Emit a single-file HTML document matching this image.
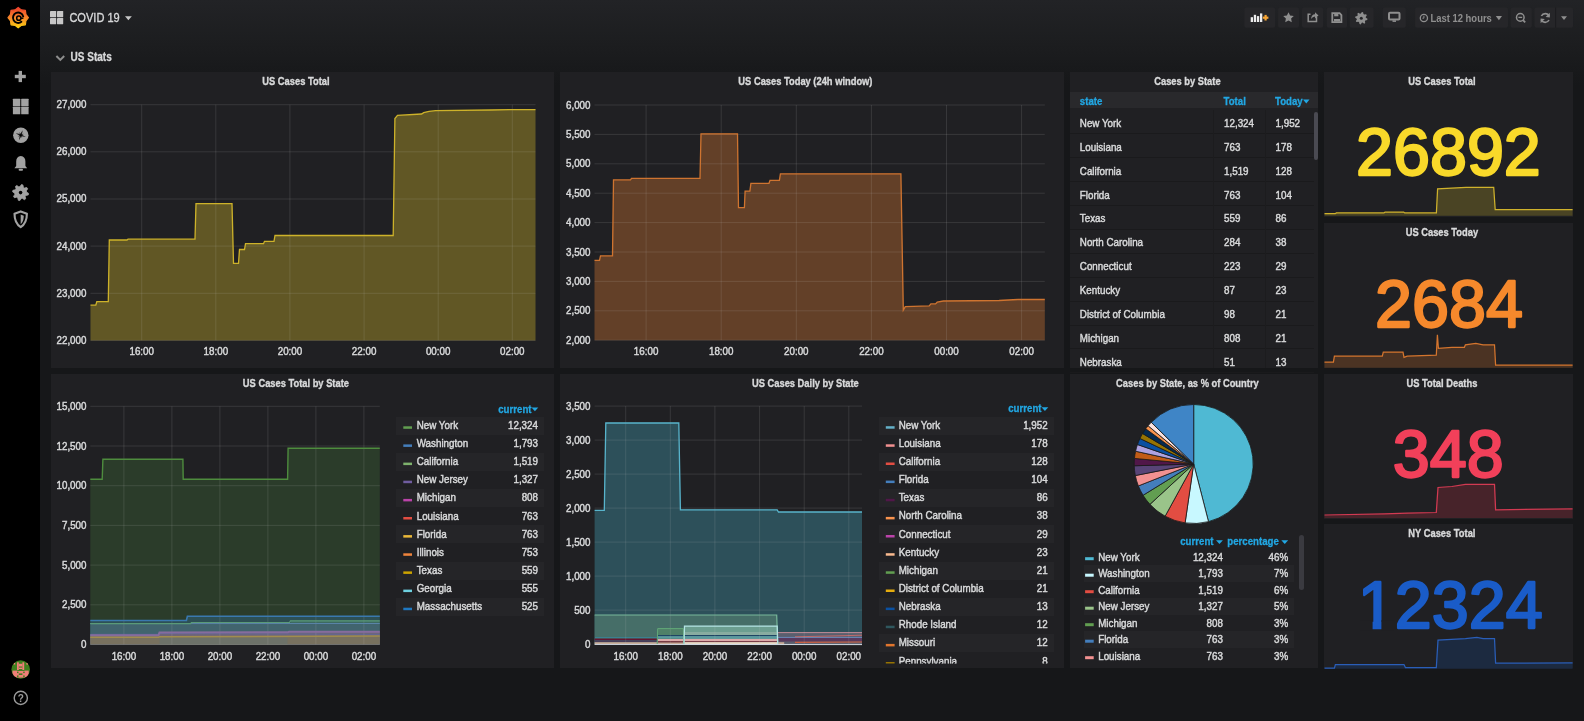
<!DOCTYPE html>
<html><head><meta charset="utf-8"><style>
html,body{margin:0;padding:0}
body{width:1584px;height:721px;overflow:hidden;position:relative;background:#161719;font-family:"Liberation Sans", sans-serif;color:#d8d9da}
.bg{position:absolute;left:40px;top:0;width:1544px;height:721px;background:linear-gradient(180deg,#222326 0px,#1c1d1f 45px,#161719 85px)}
.side{position:absolute;left:0;top:0;width:40px;height:721px;background:#000}
.pn{position:absolute;background:#202023}
svg.ov{position:absolute;left:0;top:0;will-change:transform}
svg text{font-family:"Liberation Sans", sans-serif}
</style></head><body>
<div class="bg"></div>
<div class="side"></div>
<svg class="ov" width="40" height="721" viewBox="0 0 40 721"><defs><linearGradient id="lg" x1="0" y1="0" x2="0" y2="1"><stop offset="0" stop-color="#ee3f2c"/><stop offset="0.5" stop-color="#f7842a"/><stop offset="1" stop-color="#fcd20e"/></linearGradient></defs><polygon points="18.2,7.4 21.4,9.9 25.4,10.4 25.9,14.4 28.4,17.6 25.9,20.8 25.4,24.8 21.4,25.3 18.2,27.8 15.0,25.3 11.0,24.8 10.5,20.8 8.0,17.6 10.5,14.4 11.0,10.4 15.0,9.9" fill="url(#lg)" stroke="url(#lg)" stroke-width="1.2" stroke-linejoin="round"/><path d="M23.2,16.400000000000002 A5.2,5.2 0 1 0 21.4,21.8" fill="none" stroke="#000" stroke-width="1.9" stroke-linecap="round"/><circle cx="18.8" cy="18.200000000000003" r="2.1" fill="none" stroke="#000" stroke-width="1.5"/><path d="M20.9,18.200000000000003 L23.4,18.200000000000003" stroke="#000" stroke-width="1.5"/><rect x="14.8" y="74.8" width="11" height="3.4" fill="#a2a2a2"/><rect x="18.6" y="70.9" width="3.4" height="11.2" fill="#a2a2a2"/><rect x="12.9" y="98.8" width="7.4" height="7.4" fill="#a2a2a2" rx="0.5"/><rect x="21.2" y="98.8" width="7.4" height="7.4" fill="#a2a2a2" rx="0.5"/><rect x="12.9" y="106.8" width="7.4" height="7.4" fill="#a2a2a2" rx="0.5"/><rect x="21.2" y="106.8" width="7.4" height="7.4" fill="#a2a2a2" rx="0.5"/><circle cx="20.8" cy="135.2" r="7.7" fill="#a2a2a2"/><path d="M20.8,129.8 L21.7,134.3 L26.2,135.2 L21.7,136.1 L20.8,140.6 L19.9,136.1 L15.4,135.2 L19.9,134.3 Z" fill="#1a1a1a" transform="rotate(20 20.8 135.2)"/><path d="M20.8,131.8 L21.3,134.7 L24.2,135.2 L21.3,135.7 L20.8,138.6 L20.3,135.7 L17.4,135.2 L20.3,134.7 Z" fill="#1a1a1a" transform="rotate(65 20.8 135.2)"/><circle cx="20.8" cy="135.2" r="0.9" fill="{G}"/><path d="M14.4,168.3 L16.2,166 L16.2,161.5 Q16.2,156.5 20.8,156 Q25.4,156.5 25.4,161.5 L25.4,166 L27.2,168.3 Z" fill="#a2a2a2"/><rect x="18.6" y="168.8" width="4.4" height="2" rx="1" fill="#a2a2a2"/><polygon points="28.6,193.4 28.3,194.9 25.9,195.4 25.2,196.4 25.7,198.8 24.4,199.7 22.3,198.3 21.2,198.6 19.8,200.6 18.3,200.3 17.8,197.9 16.8,197.2 14.4,197.7 13.5,196.4 14.9,194.3 14.6,193.2 12.6,191.8 12.9,190.3 15.3,189.8 16.0,188.8 15.5,186.4 16.8,185.5 18.9,186.9 20.0,186.6 21.4,184.6 22.9,184.9 23.4,187.3 24.4,188.0 26.8,187.5 27.7,188.8 26.3,190.9 26.6,192.0" fill="#a2a2a2" stroke="#a2a2a2" stroke-width="0.8" stroke-linejoin="round"/><circle cx="20.6" cy="192.6" r="1.8" fill="#000"/><path d="M20.7,211.4 L26.9,213.8 Q26.9,223.2 20.7,227.2 Q14.5,223.2 14.5,213.8 Z" fill="none" stroke="#a2a2a2" stroke-width="2.1" stroke-linejoin="round"/><path d="M20.7,214.6 L23.8,215.8 Q23.6,221.8 20.7,224.2 Z" fill="#a2a2a2"/><clipPath id="av"><circle cx="20.7" cy="669.5" r="9.3"/></clipPath><g clip-path="url(#av)"><rect x="11" y="660" width="20" height="20" fill="#3f7f1e"/><rect x="17" y="662.3" width="1.8" height="7.8" fill="#f07f78"/><rect x="22.4" y="662.3" width="1.8" height="7.8" fill="#f07f78"/><rect x="18.8" y="663.8" width="3.6" height="2.7" fill="#f07f78"/><rect x="13.6" y="663" width="1.6" height="1.6" fill="#f07f78"/><rect x="26.4" y="663" width="1.6" height="1.6" fill="#f07f78"/><rect x="12.5" y="670.6" width="16.2" height="7" fill="#f07f78"/><rect x="18.8" y="667.6" width="3.6" height="1.4" fill="#f07f78"/><rect x="17" y="671.6" width="1.5" height="1.5" fill="#3f7f1e"/><rect x="23.2" y="671.6" width="1.5" height="1.5" fill="#3f7f1e"/><rect x="18.8" y="673.4" width="3.6" height="1.6" fill="#3f7f1e"/><rect x="17" y="675.4" width="1.5" height="2" fill="#3f7f1e"/><rect x="23.2" y="675.4" width="1.5" height="2" fill="#3f7f1e"/><rect x="17.4" y="670" width="7" height="0.9" fill="#3f7f1e"/></g><circle cx="20.8" cy="697.9" r="6.6" fill="none" stroke="#9a9a9a" stroke-width="1.4"/><text x="20.8" y="701.6" font-size="10" font-weight="bold" fill="#9a9a9a" text-anchor="middle">?</text></svg>
<div class="pn" style="left:51px;top:72px;width:503px;height:296px"></div><div class="pn" style="left:560px;top:72px;width:504px;height:296px"></div><div class="pn" style="left:1070px;top:72px;width:248px;height:296px"></div><div style="position:absolute;left:1070px;top:92px;width:248px;height:16px;background:#29292c"></div><div style="position:absolute;left:1070px;top:133.4px;width:244px;height:1px;background:#1a1a1c"></div><div style="position:absolute;left:1070px;top:157.3px;width:244px;height:1px;background:#1a1a1c"></div><div style="position:absolute;left:1070px;top:181.2px;width:244px;height:1px;background:#1a1a1c"></div><div style="position:absolute;left:1070px;top:205.1px;width:244px;height:1px;background:#1a1a1c"></div><div style="position:absolute;left:1070px;top:229.0px;width:244px;height:1px;background:#1a1a1c"></div><div style="position:absolute;left:1070px;top:252.8px;width:244px;height:1px;background:#1a1a1c"></div><div style="position:absolute;left:1070px;top:276.7px;width:244px;height:1px;background:#1a1a1c"></div><div style="position:absolute;left:1070px;top:300.6px;width:244px;height:1px;background:#1a1a1c"></div><div style="position:absolute;left:1070px;top:324.5px;width:244px;height:1px;background:#1a1a1c"></div><div style="position:absolute;left:1070px;top:348.4px;width:244px;height:1px;background:#1a1a1c"></div><div style="position:absolute;left:1070px;top:372.3px;width:244px;height:1px;background:#1a1a1c"></div><div style="position:absolute;left:1213px;top:110px;width:1px;height:258px;background:#1c1c1e"></div><div style="position:absolute;left:1265px;top:110px;width:1px;height:258px;background:#1c1c1e"></div><div style="position:absolute;left:1314px;top:112px;width:4px;height:48px;border-radius:2px;background:#4a4a52"></div><div class="pn" style="left:1324px;top:72px;width:249px;height:145px"></div><div class="pn" style="left:1324px;top:223px;width:249px;height:145px"></div><div class="pn" style="left:1324px;top:374px;width:249px;height:145px"></div><div class="pn" style="left:1324px;top:524px;width:249px;height:144px"></div><div class="pn" style="left:51px;top:374px;width:503px;height:294px"></div><div style="position:absolute;left:396px;top:416.6px;width:148px;height:18.1px;background:#252528"></div><div style="position:absolute;left:396px;top:452.9px;width:148px;height:18.1px;background:#252528"></div><div style="position:absolute;left:396px;top:489.2px;width:148px;height:18.1px;background:#252528"></div><div style="position:absolute;left:396px;top:525.4px;width:148px;height:18.1px;background:#252528"></div><div style="position:absolute;left:396px;top:561.7px;width:148px;height:18.1px;background:#252528"></div><div style="position:absolute;left:396px;top:598.0px;width:148px;height:18.1px;background:#252528"></div><div class="pn" style="left:560px;top:374px;width:504px;height:294px"></div><div style="position:absolute;left:878.7px;top:416.5px;width:175px;height:18.1px;background:#252528"></div><div style="position:absolute;left:878.7px;top:452.8px;width:175px;height:18.1px;background:#252528"></div><div style="position:absolute;left:878.7px;top:489.1px;width:175px;height:18.1px;background:#252528"></div><div style="position:absolute;left:878.7px;top:525.3px;width:175px;height:18.1px;background:#252528"></div><div style="position:absolute;left:878.7px;top:561.6px;width:175px;height:18.1px;background:#252528"></div><div style="position:absolute;left:878.7px;top:597.9px;width:175px;height:18.1px;background:#252528"></div><div style="position:absolute;left:878.7px;top:634.2px;width:175px;height:18.1px;background:#252528"></div><div class="pn" style="left:1070px;top:374px;width:248px;height:294px"></div><div style="position:absolute;left:1084px;top:565.0px;width:210px;height:16.5px;background:#252528"></div><div style="position:absolute;left:1084px;top:598.0px;width:210px;height:16.5px;background:#252528"></div><div style="position:absolute;left:1084px;top:631.0px;width:210px;height:16.5px;background:#252528"></div><div style="position:absolute;left:1299px;top:535px;width:4.7px;height:55.4px;border-radius:2.5px;background:#3a3a40"></div>
<svg class="ov" width="1584" height="721" viewBox="0 0 1584 721">
<text transform="translate(295.90 85.00) scale(0.85 1)" font-size="11" fill="#d8d9da" font-weight="bold" text-anchor="middle" stroke="#d8d9da" stroke-width="0.35" class="tt">US Cases Total</text><text transform="translate(86.50 108.20) scale(0.935 1)" font-size="10.5" fill="#d8d9da" font-weight="normal" text-anchor="end" stroke="#d8d9da" stroke-width="0.45" class="tk">27,000</text><text transform="translate(86.50 155.34) scale(0.935 1)" font-size="10.5" fill="#d8d9da" font-weight="normal" text-anchor="end" stroke="#d8d9da" stroke-width="0.45" class="tk">26,000</text><text transform="translate(86.50 202.48) scale(0.935 1)" font-size="10.5" fill="#d8d9da" font-weight="normal" text-anchor="end" stroke="#d8d9da" stroke-width="0.45" class="tk">25,000</text><text transform="translate(86.50 249.62) scale(0.935 1)" font-size="10.5" fill="#d8d9da" font-weight="normal" text-anchor="end" stroke="#d8d9da" stroke-width="0.45" class="tk">24,000</text><text transform="translate(86.50 296.76) scale(0.935 1)" font-size="10.5" fill="#d8d9da" font-weight="normal" text-anchor="end" stroke="#d8d9da" stroke-width="0.45" class="tk">23,000</text><text transform="translate(86.50 343.90) scale(0.935 1)" font-size="10.5" fill="#d8d9da" font-weight="normal" text-anchor="end" stroke="#d8d9da" stroke-width="0.45" class="tk">22,000</text><text transform="translate(141.70 354.50) scale(0.935 1)" font-size="10.5" fill="#d8d9da" font-weight="normal" text-anchor="middle" stroke="#d8d9da" stroke-width="0.45" class="tk">16:00</text><text transform="translate(215.82 354.50) scale(0.935 1)" font-size="10.5" fill="#d8d9da" font-weight="normal" text-anchor="middle" stroke="#d8d9da" stroke-width="0.45" class="tk">18:00</text><text transform="translate(289.94 354.50) scale(0.935 1)" font-size="10.5" fill="#d8d9da" font-weight="normal" text-anchor="middle" stroke="#d8d9da" stroke-width="0.45" class="tk">20:00</text><text transform="translate(364.06 354.50) scale(0.935 1)" font-size="10.5" fill="#d8d9da" font-weight="normal" text-anchor="middle" stroke="#d8d9da" stroke-width="0.45" class="tk">22:00</text><text transform="translate(438.18 354.50) scale(0.935 1)" font-size="10.5" fill="#d8d9da" font-weight="normal" text-anchor="middle" stroke="#d8d9da" stroke-width="0.45" class="tk">00:00</text><text transform="translate(512.30 354.50) scale(0.935 1)" font-size="10.5" fill="#d8d9da" font-weight="normal" text-anchor="middle" stroke="#d8d9da" stroke-width="0.45" class="tk">02:00</text><polygon points="90.5,340.4 90.5,305.2 95.8,305.2 96.8,301.7 108.3,301.7 109.3,240.0 127.0,240.0 128.0,239.2 195.0,239.2 196.0,203.7 232.0,203.7 233.5,263.3 238.5,263.3 239.5,249.5 244.5,249.5 245.5,243.7 263.5,243.7 264.5,241.3 274.0,241.3 275.0,235.5 393.2,235.5 394.9,118.6 397.5,115.4 421.6,114.0 423.7,112.6 429.1,111.3 435.5,110.7 490.4,110.0 509.7,109.6 535.5,109.6 535.5,340.4" fill="#cdb22a" fill-opacity="0.38" stroke="none"/><line x1="90.5" y1="104.7" x2="535.5" y2="104.7" stroke="rgba(200,200,200,0.14)" stroke-width="1"/><line x1="90.5" y1="151.8" x2="535.5" y2="151.8" stroke="rgba(200,200,200,0.14)" stroke-width="1"/><line x1="90.5" y1="199.0" x2="535.5" y2="199.0" stroke="rgba(200,200,200,0.14)" stroke-width="1"/><line x1="90.5" y1="246.1" x2="535.5" y2="246.1" stroke="rgba(200,200,200,0.14)" stroke-width="1"/><line x1="90.5" y1="293.3" x2="535.5" y2="293.3" stroke="rgba(200,200,200,0.14)" stroke-width="1"/><line x1="90.5" y1="340.4" x2="535.5" y2="340.4" stroke="rgba(200,200,200,0.14)" stroke-width="1"/><line x1="141.7" y1="104.7" x2="141.7" y2="340.4" stroke="rgba(200,200,200,0.14)" stroke-width="1"/><line x1="215.8" y1="104.7" x2="215.8" y2="340.4" stroke="rgba(200,200,200,0.14)" stroke-width="1"/><line x1="289.9" y1="104.7" x2="289.9" y2="340.4" stroke="rgba(200,200,200,0.14)" stroke-width="1"/><line x1="364.1" y1="104.7" x2="364.1" y2="340.4" stroke="rgba(200,200,200,0.14)" stroke-width="1"/><line x1="438.2" y1="104.7" x2="438.2" y2="340.4" stroke="rgba(200,200,200,0.14)" stroke-width="1"/><line x1="512.3" y1="104.7" x2="512.3" y2="340.4" stroke="rgba(200,200,200,0.14)" stroke-width="1"/><polyline points="90.5,305.2 95.8,305.2 96.8,301.7 108.3,301.7 109.3,240.0 127.0,240.0 128.0,239.2 195.0,239.2 196.0,203.7 232.0,203.7 233.5,263.3 238.5,263.3 239.5,249.5 244.5,249.5 245.5,243.7 263.5,243.7 264.5,241.3 274.0,241.3 275.0,235.5 393.2,235.5 394.9,118.6 397.5,115.4 421.6,114.0 423.7,112.6 429.1,111.3 435.5,110.7 490.4,110.0 509.7,109.6 535.5,109.6" fill="none" stroke="#cdb22a" stroke-width="1.3" stroke-linejoin="miter"/><text transform="translate(805.40 85.00) scale(0.85 1)" font-size="11" fill="#d8d9da" font-weight="bold" text-anchor="middle" stroke="#d8d9da" stroke-width="0.35" class="tt">US Cases Today (24h window)</text><text transform="translate(590.50 108.50) scale(0.935 1)" font-size="10.5" fill="#d8d9da" font-weight="normal" text-anchor="end" stroke="#d8d9da" stroke-width="0.45" class="tk">6,000</text><text transform="translate(590.50 137.90) scale(0.935 1)" font-size="10.5" fill="#d8d9da" font-weight="normal" text-anchor="end" stroke="#d8d9da" stroke-width="0.45" class="tk">5,500</text><text transform="translate(590.50 167.30) scale(0.935 1)" font-size="10.5" fill="#d8d9da" font-weight="normal" text-anchor="end" stroke="#d8d9da" stroke-width="0.45" class="tk">5,000</text><text transform="translate(590.50 196.70) scale(0.935 1)" font-size="10.5" fill="#d8d9da" font-weight="normal" text-anchor="end" stroke="#d8d9da" stroke-width="0.45" class="tk">4,500</text><text transform="translate(590.50 226.10) scale(0.935 1)" font-size="10.5" fill="#d8d9da" font-weight="normal" text-anchor="end" stroke="#d8d9da" stroke-width="0.45" class="tk">4,000</text><text transform="translate(590.50 255.50) scale(0.935 1)" font-size="10.5" fill="#d8d9da" font-weight="normal" text-anchor="end" stroke="#d8d9da" stroke-width="0.45" class="tk">3,500</text><text transform="translate(590.50 284.90) scale(0.935 1)" font-size="10.5" fill="#d8d9da" font-weight="normal" text-anchor="end" stroke="#d8d9da" stroke-width="0.45" class="tk">3,000</text><text transform="translate(590.50 314.30) scale(0.935 1)" font-size="10.5" fill="#d8d9da" font-weight="normal" text-anchor="end" stroke="#d8d9da" stroke-width="0.45" class="tk">2,500</text><text transform="translate(590.50 343.70) scale(0.935 1)" font-size="10.5" fill="#d8d9da" font-weight="normal" text-anchor="end" stroke="#d8d9da" stroke-width="0.45" class="tk">2,000</text><text transform="translate(646.10 354.50) scale(0.935 1)" font-size="10.5" fill="#d8d9da" font-weight="normal" text-anchor="middle" stroke="#d8d9da" stroke-width="0.45" class="tk">16:00</text><text transform="translate(721.20 354.50) scale(0.935 1)" font-size="10.5" fill="#d8d9da" font-weight="normal" text-anchor="middle" stroke="#d8d9da" stroke-width="0.45" class="tk">18:00</text><text transform="translate(796.30 354.50) scale(0.935 1)" font-size="10.5" fill="#d8d9da" font-weight="normal" text-anchor="middle" stroke="#d8d9da" stroke-width="0.45" class="tk">20:00</text><text transform="translate(871.40 354.50) scale(0.935 1)" font-size="10.5" fill="#d8d9da" font-weight="normal" text-anchor="middle" stroke="#d8d9da" stroke-width="0.45" class="tk">22:00</text><text transform="translate(946.50 354.50) scale(0.935 1)" font-size="10.5" fill="#d8d9da" font-weight="normal" text-anchor="middle" stroke="#d8d9da" stroke-width="0.45" class="tk">00:00</text><text transform="translate(1021.60 354.50) scale(0.935 1)" font-size="10.5" fill="#d8d9da" font-weight="normal" text-anchor="middle" stroke="#d8d9da" stroke-width="0.45" class="tk">02:00</text><polygon points="594.5,340.2 594.5,260.4 599.5,260.4 600.5,255.9 612.5,255.9 613.5,179.9 630.5,179.9 631.5,178.4 700.0,178.4 701.0,133.8 737.5,133.8 738.5,207.7 744.4,207.7 745.1,191.1 749.9,191.1 750.9,183.3 769.0,183.3 770.0,180.4 779.4,180.4 780.4,173.8 900.9,173.8 903.3,310.1 905.3,306.7 929.2,305.9 930.9,303.9 935.5,303.9 937.2,302.2 943.4,301.0 999.1,300.5 1017.8,299.5 1044.8,299.5 1044.8,340.2" fill="#cf7430" fill-opacity="0.39" stroke="none"/><line x1="594.5" y1="105.0" x2="1044.8" y2="105.0" stroke="rgba(200,200,200,0.14)" stroke-width="1"/><line x1="594.5" y1="134.4" x2="1044.8" y2="134.4" stroke="rgba(200,200,200,0.14)" stroke-width="1"/><line x1="594.5" y1="163.8" x2="1044.8" y2="163.8" stroke="rgba(200,200,200,0.14)" stroke-width="1"/><line x1="594.5" y1="193.2" x2="1044.8" y2="193.2" stroke="rgba(200,200,200,0.14)" stroke-width="1"/><line x1="594.5" y1="222.6" x2="1044.8" y2="222.6" stroke="rgba(200,200,200,0.14)" stroke-width="1"/><line x1="594.5" y1="252.0" x2="1044.8" y2="252.0" stroke="rgba(200,200,200,0.14)" stroke-width="1"/><line x1="594.5" y1="281.4" x2="1044.8" y2="281.4" stroke="rgba(200,200,200,0.14)" stroke-width="1"/><line x1="594.5" y1="310.8" x2="1044.8" y2="310.8" stroke="rgba(200,200,200,0.14)" stroke-width="1"/><line x1="594.5" y1="340.2" x2="1044.8" y2="340.2" stroke="rgba(200,200,200,0.14)" stroke-width="1"/><line x1="646.1" y1="105.0" x2="646.1" y2="340.2" stroke="rgba(200,200,200,0.14)" stroke-width="1"/><line x1="721.2" y1="105.0" x2="721.2" y2="340.2" stroke="rgba(200,200,200,0.14)" stroke-width="1"/><line x1="796.3" y1="105.0" x2="796.3" y2="340.2" stroke="rgba(200,200,200,0.14)" stroke-width="1"/><line x1="871.4" y1="105.0" x2="871.4" y2="340.2" stroke="rgba(200,200,200,0.14)" stroke-width="1"/><line x1="946.5" y1="105.0" x2="946.5" y2="340.2" stroke="rgba(200,200,200,0.14)" stroke-width="1"/><line x1="1021.6" y1="105.0" x2="1021.6" y2="340.2" stroke="rgba(200,200,200,0.14)" stroke-width="1"/><polyline points="594.5,260.4 599.5,260.4 600.5,255.9 612.5,255.9 613.5,179.9 630.5,179.9 631.5,178.4 700.0,178.4 701.0,133.8 737.5,133.8 738.5,207.7 744.4,207.7 745.1,191.1 749.9,191.1 750.9,183.3 769.0,183.3 770.0,180.4 779.4,180.4 780.4,173.8 900.9,173.8 903.3,310.1 905.3,306.7 929.2,305.9 930.9,303.9 935.5,303.9 937.2,302.2 943.4,301.0 999.1,300.5 1017.8,299.5 1044.8,299.5" fill="none" stroke="#cf7430" stroke-width="1.3" stroke-linejoin="miter"/><text transform="translate(1187.40 85.00) scale(0.85 1)" font-size="11" fill="#d8d9da" font-weight="bold" text-anchor="middle" stroke="#d8d9da" stroke-width="0.35" class="tt">Cases by State</text><text transform="translate(1079.80 105.00) scale(0.92 1)" font-size="10.5" fill="#22a7e3" font-weight="bold" text-anchor="start" stroke="#22a7e3" stroke-width="0.3" >state</text><text transform="translate(1223.50 105.00) scale(0.92 1)" font-size="10.5" fill="#22a7e3" font-weight="bold" text-anchor="start" stroke="#22a7e3" stroke-width="0.3" >Total</text><text transform="translate(1275.00 105.00) scale(0.92 1)" font-size="10.5" fill="#22a7e3" font-weight="bold" text-anchor="start" stroke="#22a7e3" stroke-width="0.3" >Today</text><polygon points="1303,99.5 1309.5,99.5 1306.25,103.5" fill="#22a7e3"/><text transform="translate(1079.80 126.90) scale(0.935 1)" font-size="10.5" fill="#d8d9da" font-weight="normal" text-anchor="start" stroke="#d8d9da" stroke-width="0.45" >New York</text><text transform="translate(1224.00 126.90) scale(0.935 1)" font-size="10.5" fill="#d8d9da" font-weight="normal" text-anchor="start" stroke="#d8d9da" stroke-width="0.45" >12,324</text><text transform="translate(1275.50 126.90) scale(0.935 1)" font-size="10.5" fill="#d8d9da" font-weight="normal" text-anchor="start" stroke="#d8d9da" stroke-width="0.45" >1,952</text><text transform="translate(1079.80 150.79) scale(0.935 1)" font-size="10.5" fill="#d8d9da" font-weight="normal" text-anchor="start" stroke="#d8d9da" stroke-width="0.45" >Louisiana</text><text transform="translate(1224.00 150.79) scale(0.935 1)" font-size="10.5" fill="#d8d9da" font-weight="normal" text-anchor="start" stroke="#d8d9da" stroke-width="0.45" >763</text><text transform="translate(1275.50 150.79) scale(0.935 1)" font-size="10.5" fill="#d8d9da" font-weight="normal" text-anchor="start" stroke="#d8d9da" stroke-width="0.45" >178</text><text transform="translate(1079.80 174.68) scale(0.935 1)" font-size="10.5" fill="#d8d9da" font-weight="normal" text-anchor="start" stroke="#d8d9da" stroke-width="0.45" >California</text><text transform="translate(1224.00 174.68) scale(0.935 1)" font-size="10.5" fill="#d8d9da" font-weight="normal" text-anchor="start" stroke="#d8d9da" stroke-width="0.45" >1,519</text><text transform="translate(1275.50 174.68) scale(0.935 1)" font-size="10.5" fill="#d8d9da" font-weight="normal" text-anchor="start" stroke="#d8d9da" stroke-width="0.45" >128</text><text transform="translate(1079.80 198.57) scale(0.935 1)" font-size="10.5" fill="#d8d9da" font-weight="normal" text-anchor="start" stroke="#d8d9da" stroke-width="0.45" >Florida</text><text transform="translate(1224.00 198.57) scale(0.935 1)" font-size="10.5" fill="#d8d9da" font-weight="normal" text-anchor="start" stroke="#d8d9da" stroke-width="0.45" >763</text><text transform="translate(1275.50 198.57) scale(0.935 1)" font-size="10.5" fill="#d8d9da" font-weight="normal" text-anchor="start" stroke="#d8d9da" stroke-width="0.45" >104</text><text transform="translate(1079.80 222.46) scale(0.935 1)" font-size="10.5" fill="#d8d9da" font-weight="normal" text-anchor="start" stroke="#d8d9da" stroke-width="0.45" >Texas</text><text transform="translate(1224.00 222.46) scale(0.935 1)" font-size="10.5" fill="#d8d9da" font-weight="normal" text-anchor="start" stroke="#d8d9da" stroke-width="0.45" >559</text><text transform="translate(1275.50 222.46) scale(0.935 1)" font-size="10.5" fill="#d8d9da" font-weight="normal" text-anchor="start" stroke="#d8d9da" stroke-width="0.45" >86</text><text transform="translate(1079.80 246.35) scale(0.935 1)" font-size="10.5" fill="#d8d9da" font-weight="normal" text-anchor="start" stroke="#d8d9da" stroke-width="0.45" >North Carolina</text><text transform="translate(1224.00 246.35) scale(0.935 1)" font-size="10.5" fill="#d8d9da" font-weight="normal" text-anchor="start" stroke="#d8d9da" stroke-width="0.45" >284</text><text transform="translate(1275.50 246.35) scale(0.935 1)" font-size="10.5" fill="#d8d9da" font-weight="normal" text-anchor="start" stroke="#d8d9da" stroke-width="0.45" >38</text><text transform="translate(1079.80 270.24) scale(0.935 1)" font-size="10.5" fill="#d8d9da" font-weight="normal" text-anchor="start" stroke="#d8d9da" stroke-width="0.45" >Connecticut</text><text transform="translate(1224.00 270.24) scale(0.935 1)" font-size="10.5" fill="#d8d9da" font-weight="normal" text-anchor="start" stroke="#d8d9da" stroke-width="0.45" >223</text><text transform="translate(1275.50 270.24) scale(0.935 1)" font-size="10.5" fill="#d8d9da" font-weight="normal" text-anchor="start" stroke="#d8d9da" stroke-width="0.45" >29</text><text transform="translate(1079.80 294.13) scale(0.935 1)" font-size="10.5" fill="#d8d9da" font-weight="normal" text-anchor="start" stroke="#d8d9da" stroke-width="0.45" >Kentucky</text><text transform="translate(1224.00 294.13) scale(0.935 1)" font-size="10.5" fill="#d8d9da" font-weight="normal" text-anchor="start" stroke="#d8d9da" stroke-width="0.45" >87</text><text transform="translate(1275.50 294.13) scale(0.935 1)" font-size="10.5" fill="#d8d9da" font-weight="normal" text-anchor="start" stroke="#d8d9da" stroke-width="0.45" >23</text><text transform="translate(1079.80 318.02) scale(0.935 1)" font-size="10.5" fill="#d8d9da" font-weight="normal" text-anchor="start" stroke="#d8d9da" stroke-width="0.45" >District of Columbia</text><text transform="translate(1224.00 318.02) scale(0.935 1)" font-size="10.5" fill="#d8d9da" font-weight="normal" text-anchor="start" stroke="#d8d9da" stroke-width="0.45" >98</text><text transform="translate(1275.50 318.02) scale(0.935 1)" font-size="10.5" fill="#d8d9da" font-weight="normal" text-anchor="start" stroke="#d8d9da" stroke-width="0.45" >21</text><text transform="translate(1079.80 341.91) scale(0.935 1)" font-size="10.5" fill="#d8d9da" font-weight="normal" text-anchor="start" stroke="#d8d9da" stroke-width="0.45" >Michigan</text><text transform="translate(1224.00 341.91) scale(0.935 1)" font-size="10.5" fill="#d8d9da" font-weight="normal" text-anchor="start" stroke="#d8d9da" stroke-width="0.45" >808</text><text transform="translate(1275.50 341.91) scale(0.935 1)" font-size="10.5" fill="#d8d9da" font-weight="normal" text-anchor="start" stroke="#d8d9da" stroke-width="0.45" >21</text><text transform="translate(1079.80 365.80) scale(0.935 1)" font-size="10.5" fill="#d8d9da" font-weight="normal" text-anchor="start" stroke="#d8d9da" stroke-width="0.45" >Nebraska</text><text transform="translate(1224.00 365.80) scale(0.935 1)" font-size="10.5" fill="#d8d9da" font-weight="normal" text-anchor="start" stroke="#d8d9da" stroke-width="0.45" >51</text><text transform="translate(1275.50 365.80) scale(0.935 1)" font-size="10.5" fill="#d8d9da" font-weight="normal" text-anchor="start" stroke="#d8d9da" stroke-width="0.45" >13</text><text transform="translate(1441.90 85.00) scale(0.85 1)" font-size="11" fill="#d8d9da" font-weight="bold" text-anchor="middle" stroke="#d8d9da" stroke-width="0.35" class="tt">US Cases Total</text><polygon points="1324.5,215.7 1324.5,213.7 1335.3,213.7 1336.3,212.9 1384.0,212.9 1385.0,212.1 1403.7,212.1 1404.7,212.9 1436.4,212.9 1437.6,188.9 1466.0,187.3 1493.7,187.3 1495.2,209.7 1572.6,209.7 1572.6,215.7" fill="#4a4424" stroke="none"/><polyline points="1324.5,213.7 1335.3,213.7 1336.3,212.9 1384.0,212.9 1385.0,212.1 1403.7,212.1 1404.7,212.9 1436.4,212.9 1437.6,188.9 1466.0,187.3 1493.7,187.3 1495.2,209.7 1572.6,209.7" fill="none" stroke="#cfb22c" stroke-width="1.25"/><text font-size="67.5" fill="#f9d92a" stroke="#f9d92a" stroke-width="2.3" stroke-linejoin="round" text-anchor="middle" class="big" transform="translate(1448.4 175.3) scale(0.985 1)">26892</text><text transform="translate(1441.90 236.00) scale(0.85 1)" font-size="11" fill="#d8d9da" font-weight="bold" text-anchor="middle" stroke="#d8d9da" stroke-width="0.35" class="tt">US Cases Today</text><polygon points="1324.5,367.7 1324.5,362.0 1333.4,362.0 1334.4,356.2 1382.3,356.2 1383.3,352.1 1403.0,352.1 1404.0,357.3 1407.2,356.2 1436.3,355.2 1437.4,334.8 1438.4,348.3 1451.9,347.3 1464.4,347.3 1465.4,344.8 1475.8,343.3 1483.1,344.8 1494.5,344.8 1495.6,365.0 1572.6,365.0 1572.6,367.7" fill="#4b3323" stroke="none"/><polyline points="1324.5,362.0 1333.4,362.0 1334.4,356.2 1382.3,356.2 1383.3,352.1 1403.0,352.1 1404.0,357.3 1407.2,356.2 1436.3,355.2 1437.4,334.8 1438.4,348.3 1451.9,347.3 1464.4,347.3 1465.4,344.8 1475.8,343.3 1483.1,344.8 1494.5,344.8 1495.6,365.0 1572.6,365.0" fill="none" stroke="#d4752e" stroke-width="1.25"/><text font-size="67.5" fill="#f6892c" stroke="#f6892c" stroke-width="2.3" stroke-linejoin="round" text-anchor="middle" class="big" transform="translate(1449.0 326.9) scale(0.985 1)">2684</text><text transform="translate(1441.90 387.00) scale(0.85 1)" font-size="11" fill="#d8d9da" font-weight="bold" text-anchor="middle" stroke="#d8d9da" stroke-width="0.35" class="tt">US Total Deaths</text><polygon points="1324.5,518.1 1324.5,515.0 1384.3,513.9 1407.2,513.1 1436.3,512.5 1438.0,487.5 1451.9,486.5 1465.4,484.4 1494.5,484.4 1495.6,509.8 1572.6,508.9 1572.6,518.1" fill="#47232a" stroke="none"/><polyline points="1324.5,515.0 1384.3,513.9 1407.2,513.1 1436.3,512.5 1438.0,487.5 1451.9,486.5 1465.4,484.4 1494.5,484.4 1495.6,509.8 1572.6,508.9" fill="none" stroke="#d23a52" stroke-width="1.25"/><text font-size="67.5" fill="#f2405a" stroke="#f2405a" stroke-width="2.3" stroke-linejoin="round" text-anchor="middle" class="big" transform="translate(1448.2 476.9) scale(0.985 1)">348</text><text transform="translate(1441.90 537.00) scale(0.85 1)" font-size="11" fill="#d8d9da" font-weight="bold" text-anchor="middle" stroke="#d8d9da" stroke-width="0.35" class="tt">NY Cases Total</text><polygon points="1324.5,668.7 1324.5,668.1 1334.4,668.1 1335.4,664.5 1404.0,664.5 1405.5,667.7 1436.3,667.7 1438.0,640.2 1465.4,638.6 1476.9,637.5 1483.1,638.6 1494.5,638.6 1495.6,663.1 1572.6,662.9 1572.6,668.7" fill="#1c2a40" stroke="none"/><polyline points="1324.5,668.1 1334.4,668.1 1335.4,664.5 1404.0,664.5 1405.5,667.7 1436.3,667.7 1438.0,640.2 1465.4,638.6 1476.9,637.5 1483.1,638.6 1494.5,638.6 1495.6,663.1 1572.6,662.9" fill="none" stroke="#2a5eb8" stroke-width="1.25"/><text font-size="67.5" fill="#1a5cc8" stroke="#1a5cc8" stroke-width="2.3" stroke-linejoin="round" text-anchor="middle" class="big" transform="translate(1450.3 627.8) scale(0.985 1)">12324</text><rect x="1360" y="620.3" width="12.6" height="10.5" fill="#202023"/><rect x="1381.4" y="620.3" width="12.6" height="10.5" fill="#202023"/><text transform="translate(295.90 387.00) scale(0.85 1)" font-size="11" fill="#d8d9da" font-weight="bold" text-anchor="middle" stroke="#d8d9da" stroke-width="0.35" class="tt">US Cases Total by State</text><text transform="translate(86.50 409.80) scale(0.935 1)" font-size="10.5" fill="#d8d9da" font-weight="normal" text-anchor="end" stroke="#d8d9da" stroke-width="0.45" class="tk">15,000</text><text transform="translate(86.50 449.50) scale(0.935 1)" font-size="10.5" fill="#d8d9da" font-weight="normal" text-anchor="end" stroke="#d8d9da" stroke-width="0.45" class="tk">12,500</text><text transform="translate(86.50 489.20) scale(0.935 1)" font-size="10.5" fill="#d8d9da" font-weight="normal" text-anchor="end" stroke="#d8d9da" stroke-width="0.45" class="tk">10,000</text><text transform="translate(86.50 528.90) scale(0.935 1)" font-size="10.5" fill="#d8d9da" font-weight="normal" text-anchor="end" stroke="#d8d9da" stroke-width="0.45" class="tk">7,500</text><text transform="translate(86.50 568.60) scale(0.935 1)" font-size="10.5" fill="#d8d9da" font-weight="normal" text-anchor="end" stroke="#d8d9da" stroke-width="0.45" class="tk">5,000</text><text transform="translate(86.50 608.30) scale(0.935 1)" font-size="10.5" fill="#d8d9da" font-weight="normal" text-anchor="end" stroke="#d8d9da" stroke-width="0.45" class="tk">2,500</text><text transform="translate(86.50 648.00) scale(0.935 1)" font-size="10.5" fill="#d8d9da" font-weight="normal" text-anchor="end" stroke="#d8d9da" stroke-width="0.45" class="tk">0</text><text transform="translate(123.90 659.80) scale(0.935 1)" font-size="10.5" fill="#d8d9da" font-weight="normal" text-anchor="middle" stroke="#d8d9da" stroke-width="0.45" class="tk">16:00</text><text transform="translate(171.90 659.80) scale(0.935 1)" font-size="10.5" fill="#d8d9da" font-weight="normal" text-anchor="middle" stroke="#d8d9da" stroke-width="0.45" class="tk">18:00</text><text transform="translate(219.90 659.80) scale(0.935 1)" font-size="10.5" fill="#d8d9da" font-weight="normal" text-anchor="middle" stroke="#d8d9da" stroke-width="0.45" class="tk">20:00</text><text transform="translate(267.90 659.80) scale(0.935 1)" font-size="10.5" fill="#d8d9da" font-weight="normal" text-anchor="middle" stroke="#d8d9da" stroke-width="0.45" class="tk">22:00</text><text transform="translate(315.90 659.80) scale(0.935 1)" font-size="10.5" fill="#d8d9da" font-weight="normal" text-anchor="middle" stroke="#d8d9da" stroke-width="0.45" class="tk">00:00</text><text transform="translate(363.90 659.80) scale(0.935 1)" font-size="10.5" fill="#d8d9da" font-weight="normal" text-anchor="middle" stroke="#d8d9da" stroke-width="0.45" class="tk">02:00</text><polygon points="90.3,644.5 90.3,479.3 102.2,479.3 102.9,459.2 182.9,459.2 183.2,479.3 287.6,479.3 288.1,448.2 379.8,448.2 379.8,644.5" fill="#2b3c2a" stroke="none"/><polygon points="90.3,644.5 90.3,620.5 186.4,620.5 187.4,616.2 379.8,616.2 379.8,644.5" fill="#2d5055" stroke="none"/><polygon points="90.3,644.5 90.3,623.6 379.8,623.5 379.8,644.5" fill="#41646e" stroke="none"/><polygon points="290.5,620.8 379.8,620.8 379.8,623.5 290.5,623.6" fill="#3c6a62"/><polygon points="90.3,644.5 90.3,635.2 158.5,635.2 159.5,632.5 288.0,632.3 289.0,631.8 379.8,631.8 379.8,644.5" fill="#6f6478" stroke="none"/><polygon points="90.3,644.5 90.3,637.3 158.5,637.3 159.5,636.8 379.8,636.0 379.8,644.5" fill="#78715f" stroke="none"/><rect x="159.5" y="637.6" width="128" height="6.9" fill="#6d7269"/><polyline points="90.3,634.3 158.5,634.3 159.5,633.6 379.8,634.3" fill="none" stroke="#5b6aa0" stroke-width="0.8"/><line x1="90.3" y1="406.3" x2="379.8" y2="406.3" stroke="rgba(200,200,200,0.14)" stroke-width="1"/><line x1="90.3" y1="446.0" x2="379.8" y2="446.0" stroke="rgba(200,200,200,0.14)" stroke-width="1"/><line x1="90.3" y1="485.7" x2="379.8" y2="485.7" stroke="rgba(200,200,200,0.14)" stroke-width="1"/><line x1="90.3" y1="525.4" x2="379.8" y2="525.4" stroke="rgba(200,200,200,0.14)" stroke-width="1"/><line x1="90.3" y1="565.1" x2="379.8" y2="565.1" stroke="rgba(200,200,200,0.14)" stroke-width="1"/><line x1="90.3" y1="604.8" x2="379.8" y2="604.8" stroke="rgba(200,200,200,0.14)" stroke-width="1"/><line x1="90.3" y1="644.5" x2="379.8" y2="644.5" stroke="rgba(200,200,200,0.14)" stroke-width="1"/><line x1="123.9" y1="406.3" x2="123.9" y2="644.5" stroke="rgba(200,200,200,0.14)" stroke-width="1"/><line x1="171.9" y1="406.3" x2="171.9" y2="644.5" stroke="rgba(200,200,200,0.14)" stroke-width="1"/><line x1="219.9" y1="406.3" x2="219.9" y2="644.5" stroke="rgba(200,200,200,0.14)" stroke-width="1"/><line x1="267.9" y1="406.3" x2="267.9" y2="644.5" stroke="rgba(200,200,200,0.14)" stroke-width="1"/><line x1="315.9" y1="406.3" x2="315.9" y2="644.5" stroke="rgba(200,200,200,0.14)" stroke-width="1"/><line x1="363.9" y1="406.3" x2="363.9" y2="644.5" stroke="rgba(200,200,200,0.14)" stroke-width="1"/><polyline points="90.3,479.3 102.2,479.3 102.9,459.2 182.9,459.2 183.2,479.3 287.6,479.3 288.1,448.2 379.8,448.2" fill="none" stroke="#4e8c3e" stroke-width="1.4" stroke-linejoin="miter"/><polyline points="90.3,620.5 186.4,620.5 187.4,616.2 379.8,616.2" fill="none" stroke="#3a78ae" stroke-width="1.6" stroke-linejoin="miter"/><polyline points="90.3,623.6 379.8,623.5" fill="none" stroke="#5a84a8" stroke-width="1" stroke-linejoin="miter"/><polyline points="90.3,623.6 190.5,623.6 191.5,622.5 289.5,622.5 290.5,620.8 379.8,620.8" fill="none" stroke="#5a9a78" stroke-width="1.2" stroke-linejoin="miter"/><polyline points="90.3,635.2 158.5,635.2 159.5,632.5 288.0,632.3 289.0,631.8 379.8,631.8" fill="none" stroke="#866c9e" stroke-width="2" stroke-linejoin="miter"/><polyline points="90.3,637.3 158.5,637.3 159.5,636.8 379.8,636.0" fill="none" stroke="#a08d4e" stroke-width="1.5" stroke-linejoin="miter"/><text transform="translate(531.50 412.50) scale(0.92 1)" font-size="10.5" fill="#22a7e3" font-weight="bold" text-anchor="end" stroke="#22a7e3" stroke-width="0.3" >current</text><polygon points="531.5,407.6 538.3,407.6 534.9,411.3" fill="#22a7e3"/><rect x="403.3" y="426.3" width="8.7" height="2.5" fill="#629e51"/><text transform="translate(416.70 428.80) scale(0.935 1)" font-size="10.5" fill="#d8d9da" font-weight="normal" text-anchor="start" stroke="#d8d9da" stroke-width="0.45" >New York</text><text transform="translate(538.00 428.80) scale(0.935 1)" font-size="10.5" fill="#d8d9da" font-weight="normal" text-anchor="end" stroke="#d8d9da" stroke-width="0.45" >12,324</text><rect x="403.3" y="444.4" width="8.7" height="2.5" fill="#447ebc"/><text transform="translate(416.70 446.94) scale(0.935 1)" font-size="10.5" fill="#d8d9da" font-weight="normal" text-anchor="start" stroke="#d8d9da" stroke-width="0.45" >Washington</text><text transform="translate(538.00 446.94) scale(0.935 1)" font-size="10.5" fill="#d8d9da" font-weight="normal" text-anchor="end" stroke="#d8d9da" stroke-width="0.45" >1,793</text><rect x="403.3" y="462.6" width="8.7" height="2.5" fill="#7eb26d"/><text transform="translate(416.70 465.08) scale(0.935 1)" font-size="10.5" fill="#d8d9da" font-weight="normal" text-anchor="start" stroke="#d8d9da" stroke-width="0.45" >California</text><text transform="translate(538.00 465.08) scale(0.935 1)" font-size="10.5" fill="#d8d9da" font-weight="normal" text-anchor="end" stroke="#d8d9da" stroke-width="0.45" >1,519</text><rect x="403.3" y="480.7" width="8.7" height="2.5" fill="#705da0"/><text transform="translate(416.70 483.22) scale(0.935 1)" font-size="10.5" fill="#d8d9da" font-weight="normal" text-anchor="start" stroke="#d8d9da" stroke-width="0.45" >New Jersey</text><text transform="translate(538.00 483.22) scale(0.935 1)" font-size="10.5" fill="#d8d9da" font-weight="normal" text-anchor="end" stroke="#d8d9da" stroke-width="0.45" >1,327</text><rect x="403.3" y="498.9" width="8.7" height="2.5" fill="#ba43a9"/><text transform="translate(416.70 501.36) scale(0.935 1)" font-size="10.5" fill="#d8d9da" font-weight="normal" text-anchor="start" stroke="#d8d9da" stroke-width="0.45" >Michigan</text><text transform="translate(538.00 501.36) scale(0.935 1)" font-size="10.5" fill="#d8d9da" font-weight="normal" text-anchor="end" stroke="#d8d9da" stroke-width="0.45" >808</text><rect x="403.3" y="517.0" width="8.7" height="2.5" fill="#e24d42"/><text transform="translate(416.70 519.50) scale(0.935 1)" font-size="10.5" fill="#d8d9da" font-weight="normal" text-anchor="start" stroke="#d8d9da" stroke-width="0.45" >Louisiana</text><text transform="translate(538.00 519.50) scale(0.935 1)" font-size="10.5" fill="#d8d9da" font-weight="normal" text-anchor="end" stroke="#d8d9da" stroke-width="0.45" >763</text><rect x="403.3" y="535.1" width="8.7" height="2.5" fill="#eab839"/><text transform="translate(416.70 537.64) scale(0.935 1)" font-size="10.5" fill="#d8d9da" font-weight="normal" text-anchor="start" stroke="#d8d9da" stroke-width="0.45" >Florida</text><text transform="translate(538.00 537.64) scale(0.935 1)" font-size="10.5" fill="#d8d9da" font-weight="normal" text-anchor="end" stroke="#d8d9da" stroke-width="0.45" >763</text><rect x="403.3" y="553.3" width="8.7" height="2.5" fill="#ef843c"/><text transform="translate(416.70 555.78) scale(0.935 1)" font-size="10.5" fill="#d8d9da" font-weight="normal" text-anchor="start" stroke="#d8d9da" stroke-width="0.45" >Illinois</text><text transform="translate(538.00 555.78) scale(0.935 1)" font-size="10.5" fill="#d8d9da" font-weight="normal" text-anchor="end" stroke="#d8d9da" stroke-width="0.45" >753</text><rect x="403.3" y="571.4" width="8.7" height="2.5" fill="#cca300"/><text transform="translate(416.70 573.92) scale(0.935 1)" font-size="10.5" fill="#d8d9da" font-weight="normal" text-anchor="start" stroke="#d8d9da" stroke-width="0.45" >Texas</text><text transform="translate(538.00 573.92) scale(0.935 1)" font-size="10.5" fill="#d8d9da" font-weight="normal" text-anchor="end" stroke="#d8d9da" stroke-width="0.45" >559</text><rect x="403.3" y="589.6" width="8.7" height="2.5" fill="#6ed0e0"/><text transform="translate(416.70 592.06) scale(0.935 1)" font-size="10.5" fill="#d8d9da" font-weight="normal" text-anchor="start" stroke="#d8d9da" stroke-width="0.45" >Georgia</text><text transform="translate(538.00 592.06) scale(0.935 1)" font-size="10.5" fill="#d8d9da" font-weight="normal" text-anchor="end" stroke="#d8d9da" stroke-width="0.45" >555</text><rect x="403.3" y="607.7" width="8.7" height="2.5" fill="#1f78c1"/><text transform="translate(416.70 610.20) scale(0.935 1)" font-size="10.5" fill="#d8d9da" font-weight="normal" text-anchor="start" stroke="#d8d9da" stroke-width="0.45" >Massachusetts</text><text transform="translate(538.00 610.20) scale(0.935 1)" font-size="10.5" fill="#d8d9da" font-weight="normal" text-anchor="end" stroke="#d8d9da" stroke-width="0.45" >525</text><text transform="translate(805.40 387.00) scale(0.85 1)" font-size="11" fill="#d8d9da" font-weight="bold" text-anchor="middle" stroke="#d8d9da" stroke-width="0.35" class="tt">US Cases Daily by State</text><text transform="translate(590.50 409.60) scale(0.935 1)" font-size="10.5" fill="#d8d9da" font-weight="normal" text-anchor="end" stroke="#d8d9da" stroke-width="0.45" class="tk">3,500</text><text transform="translate(590.50 443.60) scale(0.935 1)" font-size="10.5" fill="#d8d9da" font-weight="normal" text-anchor="end" stroke="#d8d9da" stroke-width="0.45" class="tk">3,000</text><text transform="translate(590.50 477.60) scale(0.935 1)" font-size="10.5" fill="#d8d9da" font-weight="normal" text-anchor="end" stroke="#d8d9da" stroke-width="0.45" class="tk">2,500</text><text transform="translate(590.50 511.60) scale(0.935 1)" font-size="10.5" fill="#d8d9da" font-weight="normal" text-anchor="end" stroke="#d8d9da" stroke-width="0.45" class="tk">2,000</text><text transform="translate(590.50 545.60) scale(0.935 1)" font-size="10.5" fill="#d8d9da" font-weight="normal" text-anchor="end" stroke="#d8d9da" stroke-width="0.45" class="tk">1,500</text><text transform="translate(590.50 579.60) scale(0.935 1)" font-size="10.5" fill="#d8d9da" font-weight="normal" text-anchor="end" stroke="#d8d9da" stroke-width="0.45" class="tk">1,000</text><text transform="translate(590.50 613.60) scale(0.935 1)" font-size="10.5" fill="#d8d9da" font-weight="normal" text-anchor="end" stroke="#d8d9da" stroke-width="0.45" class="tk">500</text><text transform="translate(590.50 647.60) scale(0.935 1)" font-size="10.5" fill="#d8d9da" font-weight="normal" text-anchor="end" stroke="#d8d9da" stroke-width="0.45" class="tk">0</text><text transform="translate(625.70 659.70) scale(0.935 1)" font-size="10.5" fill="#d8d9da" font-weight="normal" text-anchor="middle" stroke="#d8d9da" stroke-width="0.45" class="tk">16:00</text><text transform="translate(670.32 659.70) scale(0.935 1)" font-size="10.5" fill="#d8d9da" font-weight="normal" text-anchor="middle" stroke="#d8d9da" stroke-width="0.45" class="tk">18:00</text><text transform="translate(714.94 659.70) scale(0.935 1)" font-size="10.5" fill="#d8d9da" font-weight="normal" text-anchor="middle" stroke="#d8d9da" stroke-width="0.45" class="tk">20:00</text><text transform="translate(759.56 659.70) scale(0.935 1)" font-size="10.5" fill="#d8d9da" font-weight="normal" text-anchor="middle" stroke="#d8d9da" stroke-width="0.45" class="tk">22:00</text><text transform="translate(804.18 659.70) scale(0.935 1)" font-size="10.5" fill="#d8d9da" font-weight="normal" text-anchor="middle" stroke="#d8d9da" stroke-width="0.45" class="tk">00:00</text><text transform="translate(848.80 659.70) scale(0.935 1)" font-size="10.5" fill="#d8d9da" font-weight="normal" text-anchor="middle" stroke="#d8d9da" stroke-width="0.45" class="tk">02:00</text><polygon points="594.6,644.1 594.6,510.4 604.3,510.4 605.8,423.0 678.8,423.0 680.4,509.8 777.2,509.8 778.5,512.0 862.0,512.0 862.0,644.1" fill="#2d505a" stroke="none"/><polygon points="594.6,644.1 594.6,615.0 776.7,615.0 777.7,644.0 777.7,644.1" fill="#466e68" stroke="none"/><polygon points="657.2,644.1 657.2,644.0 657.7,628.6 683.3,628.6 683.8,644.0 683.8,644.1" fill="#4f8068" stroke="none"/><polygon points="684.0,644.1 684.0,644.0 684.5,626.1 777.2,626.1 777.7,644.0 777.7,644.1" fill="#6c9e90" stroke="none"/><rect x="684.5" y="632" width="92.7" height="4" fill="#88aca0"/><rect x="777.7" y="632.6" width="84.3" height="11.9" fill="#5a5f6e"/><polyline points="777.7,632.6 862,632.6" fill="none" stroke="#c08c98" stroke-width="1"/><polyline points="595,637.5 657.2,637.5" fill="none" stroke="#3a8090" stroke-width="1"/><rect x="594.6" y="638.6" width="62.6" height="1.6" fill="#641432"/><rect x="594.6" y="640.2" width="62.6" height="2" fill="#463c5a"/><rect x="594.6" y="642.2" width="189.6" height="2.2" fill="#c8aa96"/><rect x="657.7" y="635" width="119.5" height="1.2" fill="#1e4464"/><rect x="657.7" y="636.2" width="119.5" height="2.4" fill="#5a98a0"/><rect x="657.7" y="639" width="119.5" height="2.2" fill="#dcaaaa"/><rect x="657.7" y="641.2" width="119.5" height="1.2" fill="#7a2838"/><rect x="684.5" y="642.2" width="92.7" height="2.2" fill="#e8dcc8"/><rect x="777.7" y="638" width="84.3" height="3.5" fill="#5a3a5e"/><polyline points="777.7,637.4 862,637.4" fill="none" stroke="#6a88b8" stroke-width="1"/><polyline points="795,636.8 840,635.8 862,635.2" fill="none" stroke="#c06a6a" stroke-width="1"/><polyline points="795,642.3 862,642" fill="none" stroke="#d06040" stroke-width="1.2"/><polyline points="594.6,644.4 862,644.6" fill="none" stroke="#d2dce6" stroke-width="1"/><line x1="594.6" y1="406.1" x2="862" y2="406.1" stroke="rgba(200,200,200,0.14)" stroke-width="1"/><line x1="594.6" y1="440.1" x2="862" y2="440.1" stroke="rgba(200,200,200,0.14)" stroke-width="1"/><line x1="594.6" y1="474.1" x2="862" y2="474.1" stroke="rgba(200,200,200,0.14)" stroke-width="1"/><line x1="594.6" y1="508.1" x2="862" y2="508.1" stroke="rgba(200,200,200,0.14)" stroke-width="1"/><line x1="594.6" y1="542.1" x2="862" y2="542.1" stroke="rgba(200,200,200,0.14)" stroke-width="1"/><line x1="594.6" y1="576.1" x2="862" y2="576.1" stroke="rgba(200,200,200,0.14)" stroke-width="1"/><line x1="594.6" y1="610.1" x2="862" y2="610.1" stroke="rgba(200,200,200,0.14)" stroke-width="1"/><line x1="594.6" y1="644.1" x2="862" y2="644.1" stroke="rgba(200,200,200,0.14)" stroke-width="1"/><line x1="625.7" y1="406.1" x2="625.7" y2="644.1" stroke="rgba(200,200,200,0.14)" stroke-width="1"/><line x1="670.3" y1="406.1" x2="670.3" y2="644.1" stroke="rgba(200,200,200,0.14)" stroke-width="1"/><line x1="714.9" y1="406.1" x2="714.9" y2="644.1" stroke="rgba(200,200,200,0.14)" stroke-width="1"/><line x1="759.6" y1="406.1" x2="759.6" y2="644.1" stroke="rgba(200,200,200,0.14)" stroke-width="1"/><line x1="804.2" y1="406.1" x2="804.2" y2="644.1" stroke="rgba(200,200,200,0.14)" stroke-width="1"/><line x1="848.8" y1="406.1" x2="848.8" y2="644.1" stroke="rgba(200,200,200,0.14)" stroke-width="1"/><polyline points="594.6,510.4 604.3,510.4 605.8,423.0 678.8,423.0 680.4,509.8 777.2,509.8 778.5,512.0 862.0,512.0" fill="none" stroke="#58b4cc" stroke-width="1.3" stroke-linejoin="miter"/><polyline points="594.6,615.0 776.7,615.0 777.7,644.0" fill="none" stroke="#78b89a" stroke-width="1.2" stroke-linejoin="miter"/><polyline points="657.2,644.0 657.7,628.6 683.3,628.6 683.8,644.0" fill="none" stroke="#62a878" stroke-width="1" stroke-linejoin="miter"/><polyline points="684.0,644.0 684.5,626.1 777.2,626.1 777.7,644.0" fill="none" stroke="#b4e4e4" stroke-width="1.3" stroke-linejoin="miter"/><text transform="translate(1041.50 412.20) scale(0.92 1)" font-size="10.5" fill="#22a7e3" font-weight="bold" text-anchor="end" stroke="#22a7e3" stroke-width="0.3" >current</text><polygon points="1041.5,407.3 1048.3,407.3 1044.9,411" fill="#22a7e3"/><clipPath id="c5"><rect x="870" y="400" width="190" height="263.5"/></clipPath><g clip-path="url(#c5)"><rect x="885.8" y="426.2" width="8.8" height="2.5" fill="#64b0c8"/><text transform="translate(898.70 428.70) scale(0.935 1)" font-size="10.5" fill="#d8d9da" font-weight="normal" text-anchor="start" stroke="#d8d9da" stroke-width="0.45" >New York</text><text transform="translate(1047.70 428.70) scale(0.935 1)" font-size="10.5" fill="#d8d9da" font-weight="normal" text-anchor="end" stroke="#d8d9da" stroke-width="0.45" >1,952</text><rect x="885.8" y="444.3" width="8.8" height="2.5" fill="#f29191"/><text transform="translate(898.70 446.84) scale(0.935 1)" font-size="10.5" fill="#d8d9da" font-weight="normal" text-anchor="start" stroke="#d8d9da" stroke-width="0.45" >Louisiana</text><text transform="translate(1047.70 446.84) scale(0.935 1)" font-size="10.5" fill="#d8d9da" font-weight="normal" text-anchor="end" stroke="#d8d9da" stroke-width="0.45" >178</text><rect x="885.8" y="462.5" width="8.8" height="2.5" fill="#e24d42"/><text transform="translate(898.70 464.98) scale(0.935 1)" font-size="10.5" fill="#d8d9da" font-weight="normal" text-anchor="start" stroke="#d8d9da" stroke-width="0.45" >California</text><text transform="translate(1047.70 464.98) scale(0.935 1)" font-size="10.5" fill="#d8d9da" font-weight="normal" text-anchor="end" stroke="#d8d9da" stroke-width="0.45" >128</text><rect x="885.8" y="480.6" width="8.8" height="2.5" fill="#447ebc"/><text transform="translate(898.70 483.12) scale(0.935 1)" font-size="10.5" fill="#d8d9da" font-weight="normal" text-anchor="start" stroke="#d8d9da" stroke-width="0.45" >Florida</text><text transform="translate(1047.70 483.12) scale(0.935 1)" font-size="10.5" fill="#d8d9da" font-weight="normal" text-anchor="end" stroke="#d8d9da" stroke-width="0.45" >104</text><rect x="885.8" y="498.8" width="8.8" height="2.5" fill="#511749"/><text transform="translate(898.70 501.26) scale(0.935 1)" font-size="10.5" fill="#d8d9da" font-weight="normal" text-anchor="start" stroke="#d8d9da" stroke-width="0.45" >Texas</text><text transform="translate(1047.70 501.26) scale(0.935 1)" font-size="10.5" fill="#d8d9da" font-weight="normal" text-anchor="end" stroke="#d8d9da" stroke-width="0.45" >86</text><rect x="885.8" y="516.9" width="8.8" height="2.5" fill="#f9934e"/><text transform="translate(898.70 519.40) scale(0.935 1)" font-size="10.5" fill="#d8d9da" font-weight="normal" text-anchor="start" stroke="#d8d9da" stroke-width="0.45" >North Carolina</text><text transform="translate(1047.70 519.40) scale(0.935 1)" font-size="10.5" fill="#d8d9da" font-weight="normal" text-anchor="end" stroke="#d8d9da" stroke-width="0.45" >38</text><rect x="885.8" y="535.0" width="8.8" height="2.5" fill="#ba43a9"/><text transform="translate(898.70 537.54) scale(0.935 1)" font-size="10.5" fill="#d8d9da" font-weight="normal" text-anchor="start" stroke="#d8d9da" stroke-width="0.45" >Connecticut</text><text transform="translate(1047.70 537.54) scale(0.935 1)" font-size="10.5" fill="#d8d9da" font-weight="normal" text-anchor="end" stroke="#d8d9da" stroke-width="0.45" >29</text><rect x="885.8" y="553.2" width="8.8" height="2.5" fill="#f9ba8f"/><text transform="translate(898.70 555.68) scale(0.935 1)" font-size="10.5" fill="#d8d9da" font-weight="normal" text-anchor="start" stroke="#d8d9da" stroke-width="0.45" >Kentucky</text><text transform="translate(1047.70 555.68) scale(0.935 1)" font-size="10.5" fill="#d8d9da" font-weight="normal" text-anchor="end" stroke="#d8d9da" stroke-width="0.45" >23</text><rect x="885.8" y="571.3" width="8.8" height="2.5" fill="#629e51"/><text transform="translate(898.70 573.82) scale(0.935 1)" font-size="10.5" fill="#d8d9da" font-weight="normal" text-anchor="start" stroke="#d8d9da" stroke-width="0.45" >Michigan</text><text transform="translate(1047.70 573.82) scale(0.935 1)" font-size="10.5" fill="#d8d9da" font-weight="normal" text-anchor="end" stroke="#d8d9da" stroke-width="0.45" >21</text><rect x="885.8" y="589.5" width="8.8" height="2.5" fill="#e5ac0e"/><text transform="translate(898.70 591.96) scale(0.935 1)" font-size="10.5" fill="#d8d9da" font-weight="normal" text-anchor="start" stroke="#d8d9da" stroke-width="0.45" >District of Columbia</text><text transform="translate(1047.70 591.96) scale(0.935 1)" font-size="10.5" fill="#d8d9da" font-weight="normal" text-anchor="end" stroke="#d8d9da" stroke-width="0.45" >21</text><rect x="885.8" y="607.6" width="8.8" height="2.5" fill="#0a50a1"/><text transform="translate(898.70 610.10) scale(0.935 1)" font-size="10.5" fill="#d8d9da" font-weight="normal" text-anchor="start" stroke="#d8d9da" stroke-width="0.45" >Nebraska</text><text transform="translate(1047.70 610.10) scale(0.935 1)" font-size="10.5" fill="#d8d9da" font-weight="normal" text-anchor="end" stroke="#d8d9da" stroke-width="0.45" >13</text><rect x="885.8" y="625.7" width="8.8" height="2.5" fill="#2f575e"/><text transform="translate(898.70 628.24) scale(0.935 1)" font-size="10.5" fill="#d8d9da" font-weight="normal" text-anchor="start" stroke="#d8d9da" stroke-width="0.45" >Rhode Island</text><text transform="translate(1047.70 628.24) scale(0.935 1)" font-size="10.5" fill="#d8d9da" font-weight="normal" text-anchor="end" stroke="#d8d9da" stroke-width="0.45" >12</text><rect x="885.8" y="643.9" width="8.8" height="2.5" fill="#e0752d"/><text transform="translate(898.70 646.38) scale(0.935 1)" font-size="10.5" fill="#d8d9da" font-weight="normal" text-anchor="start" stroke="#d8d9da" stroke-width="0.45" >Missouri</text><text transform="translate(1047.70 646.38) scale(0.935 1)" font-size="10.5" fill="#d8d9da" font-weight="normal" text-anchor="end" stroke="#d8d9da" stroke-width="0.45" >12</text><rect x="885.8" y="662.0" width="8.8" height="2.5" fill="#967302"/><text transform="translate(898.70 664.52) scale(0.935 1)" font-size="10.5" fill="#d8d9da" font-weight="normal" text-anchor="start" stroke="#d8d9da" stroke-width="0.45" >Pennsylvania</text><text transform="translate(1047.70 664.52) scale(0.935 1)" font-size="10.5" fill="#d8d9da" font-weight="normal" text-anchor="end" stroke="#d8d9da" stroke-width="0.45" >8</text></g><text transform="translate(1187.40 387.00) scale(0.85 1)" font-size="11" fill="#d8d9da" font-weight="bold" text-anchor="middle" stroke="#d8d9da" stroke-width="0.35" class="tt">Cases by State, as % of Country</text><path d="M1193.7,464 L1193.70,404.50 A59.5,59.5 0 0 1 1208.50,521.63 Z" fill="#4fb9d3" stroke="#1a1a1a" stroke-width="0.8"/><path d="M1193.7,464 L1208.50,521.63 A59.5,59.5 0 0 1 1185.11,522.88 Z" fill="#c8f8ff" stroke="#1a1a1a" stroke-width="0.8"/><path d="M1193.7,464 L1185.11,522.88 A59.5,59.5 0 0 1 1165.13,516.19 Z" fill="#e24d42" stroke="#1a1a1a" stroke-width="0.8"/><path d="M1193.7,464 L1165.13,516.19 A59.5,59.5 0 0 1 1149.97,504.35 Z" fill="#9ac48a" stroke="#1a1a1a" stroke-width="0.8"/><path d="M1193.7,464 L1149.97,504.35 A59.5,59.5 0 0 1 1143.08,495.27 Z" fill="#629e51" stroke="#1a1a1a" stroke-width="0.8"/><path d="M1193.7,464 L1143.08,495.27 A59.5,59.5 0 0 1 1138.38,485.90 Z" fill="#447ebc" stroke="#1a1a1a" stroke-width="0.8"/><path d="M1193.7,464 L1138.38,485.90 A59.5,59.5 0 0 1 1135.33,475.56 Z" fill="#f29191" stroke="#1a1a1a" stroke-width="0.8"/><path d="M1193.7,464 L1135.33,475.56 A59.5,59.5 0 0 1 1134.23,465.77 Z" fill="#584477" stroke="#1a1a1a" stroke-width="0.8"/><path d="M1193.7,464 L1134.23,465.77 A59.5,59.5 0 0 1 1134.46,458.40 Z" fill="#511749" stroke="#1a1a1a" stroke-width="0.8"/><path d="M1193.7,464 L1134.46,458.40 A59.5,59.5 0 0 1 1135.59,451.22 Z" fill="#c15c17" stroke="#1a1a1a" stroke-width="0.8"/><path d="M1193.7,464 L1135.59,451.22 A59.5,59.5 0 0 1 1137.48,444.53 Z" fill="#aea2e0" stroke="#1a1a1a" stroke-width="0.8"/><path d="M1193.7,464 L1137.48,444.53 A59.5,59.5 0 0 1 1139.95,438.48 Z" fill="#0a50a1" stroke="#1a1a1a" stroke-width="0.8"/><path d="M1193.7,464 L1139.95,438.48 A59.5,59.5 0 0 1 1142.59,433.53 Z" fill="#967302" stroke="#1a1a1a" stroke-width="0.8"/><path d="M1193.7,464 L1142.59,433.53 A59.5,59.5 0 0 1 1145.75,428.78 Z" fill="#052b51" stroke="#1a1a1a" stroke-width="0.8"/><path d="M1193.7,464 L1145.75,428.78 A59.5,59.5 0 0 1 1148.12,425.75 Z" fill="#f9934e" stroke="#1a1a1a" stroke-width="0.8"/><path d="M1193.7,464 L1148.12,425.75 A59.5,59.5 0 0 1 1151.26,422.30 Z" fill="#fce2de" stroke="#1a1a1a" stroke-width="0.8"/><path d="M1193.7,464 L1151.26,422.30 A59.5,59.5 0 0 1 1193.70,404.50 Z" fill="#3f85c6" stroke="#1a1a1a" stroke-width="0.8"/><text transform="translate(1213.50 545.10) scale(0.92 1)" font-size="10.5" fill="#22a7e3" font-weight="bold" text-anchor="end" stroke="#22a7e3" stroke-width="0.3" >current</text><polygon points="1216,540.3 1222.9,540.3 1219.45,544" fill="#22a7e3"/><text transform="translate(1278.80 545.10) scale(0.92 1)" font-size="10.5" fill="#22a7e3" font-weight="bold" text-anchor="end" stroke="#22a7e3" stroke-width="0.3" >percentage</text><polygon points="1281.3,540.3 1288.2,540.3 1284.75,544" fill="#22a7e3"/><rect x="1085.1" y="557.2" width="8.6" height="3" fill="#4fb9d3"/><text transform="translate(1098.20 560.80) scale(0.935 1)" font-size="10.5" fill="#d8d9da" font-weight="normal" text-anchor="start" stroke="#d8d9da" stroke-width="0.45" >New York</text><text transform="translate(1222.90 560.80) scale(0.935 1)" font-size="10.5" fill="#d8d9da" font-weight="normal" text-anchor="end" stroke="#d8d9da" stroke-width="0.45" >12,324</text><text transform="translate(1288.20 560.80) scale(0.935 1)" font-size="10.5" fill="#d8d9da" font-weight="normal" text-anchor="end" stroke="#d8d9da" stroke-width="0.45" >46%</text><rect x="1085.1" y="573.7" width="8.6" height="3" fill="#c8f8ff"/><text transform="translate(1098.20 577.30) scale(0.935 1)" font-size="10.5" fill="#d8d9da" font-weight="normal" text-anchor="start" stroke="#d8d9da" stroke-width="0.45" >Washington</text><text transform="translate(1222.90 577.30) scale(0.935 1)" font-size="10.5" fill="#d8d9da" font-weight="normal" text-anchor="end" stroke="#d8d9da" stroke-width="0.45" >1,793</text><text transform="translate(1288.20 577.30) scale(0.935 1)" font-size="10.5" fill="#d8d9da" font-weight="normal" text-anchor="end" stroke="#d8d9da" stroke-width="0.45" >7%</text><rect x="1085.1" y="590.2" width="8.6" height="3" fill="#e24d42"/><text transform="translate(1098.20 593.80) scale(0.935 1)" font-size="10.5" fill="#d8d9da" font-weight="normal" text-anchor="start" stroke="#d8d9da" stroke-width="0.45" >California</text><text transform="translate(1222.90 593.80) scale(0.935 1)" font-size="10.5" fill="#d8d9da" font-weight="normal" text-anchor="end" stroke="#d8d9da" stroke-width="0.45" >1,519</text><text transform="translate(1288.20 593.80) scale(0.935 1)" font-size="10.5" fill="#d8d9da" font-weight="normal" text-anchor="end" stroke="#d8d9da" stroke-width="0.45" >6%</text><rect x="1085.1" y="606.7" width="8.6" height="3" fill="#9ac48a"/><text transform="translate(1098.20 610.30) scale(0.935 1)" font-size="10.5" fill="#d8d9da" font-weight="normal" text-anchor="start" stroke="#d8d9da" stroke-width="0.45" >New Jersey</text><text transform="translate(1222.90 610.30) scale(0.935 1)" font-size="10.5" fill="#d8d9da" font-weight="normal" text-anchor="end" stroke="#d8d9da" stroke-width="0.45" >1,327</text><text transform="translate(1288.20 610.30) scale(0.935 1)" font-size="10.5" fill="#d8d9da" font-weight="normal" text-anchor="end" stroke="#d8d9da" stroke-width="0.45" >5%</text><rect x="1085.1" y="623.2" width="8.6" height="3" fill="#629e51"/><text transform="translate(1098.20 626.80) scale(0.935 1)" font-size="10.5" fill="#d8d9da" font-weight="normal" text-anchor="start" stroke="#d8d9da" stroke-width="0.45" >Michigan</text><text transform="translate(1222.90 626.80) scale(0.935 1)" font-size="10.5" fill="#d8d9da" font-weight="normal" text-anchor="end" stroke="#d8d9da" stroke-width="0.45" >808</text><text transform="translate(1288.20 626.80) scale(0.935 1)" font-size="10.5" fill="#d8d9da" font-weight="normal" text-anchor="end" stroke="#d8d9da" stroke-width="0.45" >3%</text><rect x="1085.1" y="639.7" width="8.6" height="3" fill="#447ebc"/><text transform="translate(1098.20 643.30) scale(0.935 1)" font-size="10.5" fill="#d8d9da" font-weight="normal" text-anchor="start" stroke="#d8d9da" stroke-width="0.45" >Florida</text><text transform="translate(1222.90 643.30) scale(0.935 1)" font-size="10.5" fill="#d8d9da" font-weight="normal" text-anchor="end" stroke="#d8d9da" stroke-width="0.45" >763</text><text transform="translate(1288.20 643.30) scale(0.935 1)" font-size="10.5" fill="#d8d9da" font-weight="normal" text-anchor="end" stroke="#d8d9da" stroke-width="0.45" >3%</text><rect x="1085.1" y="656.2" width="8.6" height="3" fill="#f29191"/><text transform="translate(1098.20 659.80) scale(0.935 1)" font-size="10.5" fill="#d8d9da" font-weight="normal" text-anchor="start" stroke="#d8d9da" stroke-width="0.45" >Louisiana</text><text transform="translate(1222.90 659.80) scale(0.935 1)" font-size="10.5" fill="#d8d9da" font-weight="normal" text-anchor="end" stroke="#d8d9da" stroke-width="0.45" >763</text><text transform="translate(1288.20 659.80) scale(0.935 1)" font-size="10.5" fill="#d8d9da" font-weight="normal" text-anchor="end" stroke="#d8d9da" stroke-width="0.45" >3%</text><rect x="50" y="11" width="6.2" height="6.2" fill="#c7c7c7" rx="0.4"/><rect x="57" y="11" width="6.2" height="6.2" fill="#c7c7c7" rx="0.4"/><rect x="50" y="18" width="6.2" height="6.2" fill="#c7c7c7" rx="0.4"/><rect x="57" y="18" width="6.2" height="6.2" fill="#c7c7c7" rx="0.4"/><text transform="translate(69.40 21.90) scale(0.85 1)" font-size="13" fill="#d8d9da" font-weight="normal" text-anchor="start" stroke="#d8d9da" stroke-width="0.35" >COVID 19</text><polygon points="125,16.2 131.8,16.2 128.4,20.2" fill="#c8c8c8"/><polyline points="56.4,56 60.3,59.9 64.2,56" fill="none" stroke="#8e8e8e" stroke-width="2"/><text transform="translate(70.60 61.30) scale(0.835 1)" font-size="12" fill="#d8d9da" font-weight="bold" text-anchor="start" stroke="#d8d9da" stroke-width="0.3" >US Stats</text><rect x="1244.3" y="7.5" width="30.9" height="20.2" rx="2" fill="#262629"/><rect x="1278.1" y="7.5" width="20.9" height="20.2" rx="2" fill="#262629"/><rect x="1302" y="7.5" width="21.2" height="20.2" rx="2" fill="#262629"/><rect x="1326.7" y="7.5" width="20.4" height="20.2" rx="2" fill="#262629"/><rect x="1349.7" y="7.5" width="23.9" height="20.2" rx="2" fill="#262629"/><rect x="1382.7" y="7.5" width="23.1" height="20.2" rx="2" fill="#262629"/><rect x="1415.1" y="7.5" width="92.9" height="20.2" rx="2" fill="#262629"/><rect x="1510.6" y="7.5" width="21.2" height="20.2" rx="2" fill="#262629"/><rect x="1534.5" y="7.5" width="38.6" height="20.2" rx="2" fill="#262629"/><rect x="1250.7" y="17.2" width="2.3" height="4.8" fill="#ececec"/><rect x="1253.8" y="14.8" width="2.3" height="7.2" fill="#ececec"/><rect x="1256.9" y="16.1" width="2.3" height="5.9" fill="#ececec"/><rect x="1260" y="13.4" width="2.3" height="8.6" fill="#ececec"/><rect x="1262.8" y="16.6" width="5.6" height="2.2" fill="#f5a433"/><rect x="1264.5" y="14.9" width="2.2" height="5.6" fill="#f5a433"/><polygon points="1288.5,12.2 1290.1,15.6 1293.8,16.1 1291.1,18.6 1291.8,22.3 1288.5,20.5 1285.2,22.3 1285.9,18.6 1283.2,16.1 1286.9,15.6" fill="#8f8f8f"/><path d="M1316.5,17 L1316.5,21.4 L1308.2,21.4 L1308.2,14.2 L1310.5,14.2" fill="none" stroke="#8f8f8f" stroke-width="1.5"/><path d="M1311,19 Q1311.5,14.5 1315,14.3 L1315,12.2 L1318.5,15.5 L1315,18.6 L1315,16.5 Q1312.5,16.6 1311,19 Z" fill="#8f8f8f"/><path d="M1332.3,13.2 L1339.6,13.2 L1341.4,15 L1341.4,22.2 L1332.3,22.2 Z" fill="none" stroke="#8f8f8f" stroke-width="1.8"/><rect x="1334.2" y="13.5" width="4.2" height="2.8" fill="#8f8f8f"/><rect x="1334" y="19" width="6" height="2.5" fill="#8f8f8f"/><polygon points="1367.5,18.8 1367.2,20.0 1365.4,20.4 1364.9,21.1 1365.2,23.0 1364.2,23.7 1362.6,22.6 1361.8,22.8 1360.7,24.4 1359.5,24.1 1359.1,22.3 1358.4,21.8 1356.5,22.1 1355.8,21.1 1356.9,19.5 1356.7,18.7 1355.1,17.6 1355.4,16.4 1357.2,16.0 1357.7,15.3 1357.4,13.4 1358.4,12.7 1360.0,13.8 1360.8,13.6 1361.9,12.0 1363.1,12.3 1363.5,14.1 1364.2,14.6 1366.1,14.3 1366.8,15.3 1365.7,16.9 1365.9,17.7" fill="#8f8f8f"/><circle cx="1361.3" cy="18.2" r="1.5" fill="#262629"/><rect x="1389" y="12.8" width="10.5" height="6.8" rx="1" fill="none" stroke="#8f8f8f" stroke-width="2"/><rect x="1392.5" y="20.3" width="3.5" height="1.6" fill="#8f8f8f"/><circle cx="1423.9" cy="18" r="3.6" fill="none" stroke="#8f8f8f" stroke-width="1.3"/><path d="M1423.9,15.8 L1423.9,18.2 L1422.4,18.2" fill="none" stroke="#8f8f8f" stroke-width="1"/><text transform="translate(1430.40 21.80) scale(0.86 1)" font-size="11" fill="#8f8f8f" font-weight="bold" text-anchor="start" >Last 12 hours</text><polygon points="1495.8,16 1502,16 1498.9,20.3" fill="#8f8f8f"/><circle cx="1520.3" cy="17.4" r="3.8" fill="none" stroke="#8f8f8f" stroke-width="1.5"/><line x1="1518.4" y1="17.4" x2="1522.2" y2="17.4" stroke="#8f8f8f" stroke-width="1.3"/><line x1="1523" y1="20.1" x2="1525.2" y2="22.3" stroke="#8f8f8f" stroke-width="1.8"/><path d="M1549.2,16.2 A4.3,4.3 0 0 0 1541.4,16" fill="none" stroke="#8f8f8f" stroke-width="1.6"/><path d="M1541.2,19.8 A4.3,4.3 0 0 0 1549,20" fill="none" stroke="#8f8f8f" stroke-width="1.6"/><polygon points="1549.8,12.8 1549.8,17.4 1545.6,17" fill="#8f8f8f"/><polygon points="1540.6,23.2 1540.6,18.6 1544.8,19" fill="#8f8f8f"/><line x1="1555.6" y1="7.5" x2="1555.6" y2="27.7" stroke="#1c1c1e" stroke-width="1"/><polygon points="1561,16.2 1567,16.2 1564,20" fill="#8f8f8f"/>
</svg>
</body></html>
